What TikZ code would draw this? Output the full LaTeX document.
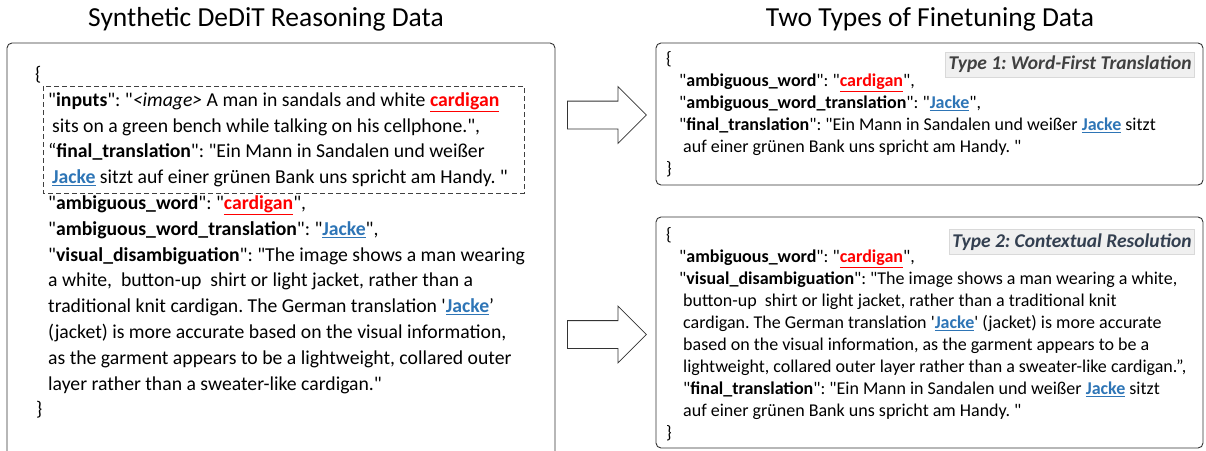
\documentclass[tikz,border=0pt]{standalone}
\usepackage{fontspec}
\setmainfont{Carlito}[Ligatures=TeXOff]
\usetikzlibrary{shapes.arrows}
\frenchspacing
\definecolor{kwred}{HTML}{FF0000}
\definecolor{kwblue}{HTML}{2E75B6}
\definecolor{tagtexta}{HTML}{404040}
\definecolor{tagtextb}{HTML}{333F50}
\definecolor{tagfill}{HTML}{F0F0F0}
\definecolor{tagline}{HTML}{D9D9D9}
\newcommand{\kw}[1]{\textbf{#1}}
\newcommand{\redword}[1]{{\color{kwred}\underline{\textbf{#1}}}}
\newcommand{\blueword}[1]{{\color{kwblue}\underline{\textbf{#1}}}}
\begin{document}
\begin{tikzpicture}[x=1pt,y=-1pt,
  title/.style={font=\fontsize{27.5}{32}\selectfont, inner sep=0pt},
  panel/.style={draw=black!80, line width=0.9pt, rounded corners=5pt},
  leftjson/.style={anchor=north west, align=left, inner sep=0pt,
    font=\fontsize{19.7}{25.8}\selectfont},
  rightjson/.style={anchor=north west, align=left, inner sep=0pt,
    font=\fontsize{18}{22}\selectfont},
  tag/.style={fill=tagfill, draw=tagline, line width=0.6pt, inner xsep=3pt,
    minimum height=25pt, font=\fontsize{19.5}{22}\selectfont\bfseries\itshape},
  blockarrow/.style={single arrow, draw=black!80, line width=0.8pt, fill=white,
    single arrow head extend=14.5pt, single arrow tip angle=90,
    inner xsep=0pt, inner ysep=13.5pt, minimum width=0pt,
    minimum height=79pt, anchor=tail}
]
\useasboundingbox (0,0) rectangle (1206,450);

% section titles
\node[title] (ltitle) at (266,19) {Synthetic DeDiT Reasoning Data};
\node[title] (rtitle) at (930,19) {Two Types of Finetuning Data};

% panels
\draw[panel] (7,43) rectangle (555,470);
\draw[panel] (656,43) rectangle (1203,185);
\draw[panel] (656,217) rectangle (1203,448);

% highlighted input/output pair
\draw[dash pattern=on 5pt off 3pt, line width=0.8pt, black!75] (43,86) rectangle (524,193);

% left record
\node[leftjson] (leftrec) at (35,66) {%
{\{}\\
\hspace{13pt}"\kw{inputs}": "\textit{<image>} A man in sandals and white \redword{cardigan}\\
\hspace{17pt}sits on a green bench while talking on his cellphone.",\\
\hspace{13pt}“\kw{final\_translation}": "Ein Mann in Sandalen und weißer\\
\hspace{17pt}\blueword{Jacke} sitzt auf einer grünen Bank uns spricht am Handy. "\\
\hspace{13pt}"\kw{ambiguous\_word}": "\redword{cardigan}",\\
\hspace{13pt}"\kw{ambiguous\_word\_translation}": "\blueword{Jacke}",\\
\hspace{13pt}"\kw{visual\_disambiguation}": "The image shows a man wearing\\
\hspace{13pt}a white,\ \ button-up\ \ shirt or light jacket, rather than a\\
\hspace{13pt}traditional knit cardigan. The German translation '\blueword{Jacke}’\\
\hspace{13pt}(jacket) is more accurate based on the visual information,\\
\hspace{13pt}as the garment appears to be a lightweight, collared outer\\
\hspace{13pt}layer rather than a sweater-like cardigan."\\
\hspace{1pt}\}};

% arrows
\node[blockarrow] (arr1) at (567,115) {};
\node[blockarrow] (arr2) at (567,334.5) {};

% type 1 record
\node[rightjson] (rec1) at (666,51.5) {%
\{\\
\hspace{13pt}"\kw{ambiguous\_word}": "\redword{cardigan}",\\
\hspace{13pt}"\kw{ambiguous\_word\_translation}": "\blueword{Jacke}",\\
\hspace{13pt}"\kw{final\_translation}": "Ein Mann in Sandalen und weißer \blueword{Jacke} sitzt\\
\hspace{17pt}auf einer grünen Bank uns spricht am Handy. "\\
\}};
\node[tag, text=tagtexta, anchor=east] (tag1) at (1195,64.5) {Type 1: Word-First Translation};

% type 2 record
\node[rightjson] (rec2) at (666,227.5) {%
\{\\
\hspace{13pt}"\kw{ambiguous\_word}": "\redword{cardigan}",\\
\hspace{13pt}"\kw{visual\_disambiguation}": "The image shows a man wearing a white,\\
\hspace{17pt}button-up\ \ shirt or light jacket, rather than a traditional knit\\
\hspace{17pt}cardigan. The German translation '\blueword{Jacke}' (jacket) is more accurate\\
\hspace{17pt}based on the visual information, as the garment appears to be a\\
\hspace{17pt}lightweight, collared outer layer rather than a sweater-like cardigan.”,\\
\hspace{17pt}"\kw{final\_translation}": "Ein Mann in Sandalen und weißer \blueword{Jacke} sitzt\\
\hspace{17pt}auf einer grünen Bank uns spricht am Handy. "\\
\}};
\node[tag, text=tagtextb, anchor=east] (tag2) at (1195,242) {Type 2: Contextual Resolution};
\end{tikzpicture}
\end{document}
